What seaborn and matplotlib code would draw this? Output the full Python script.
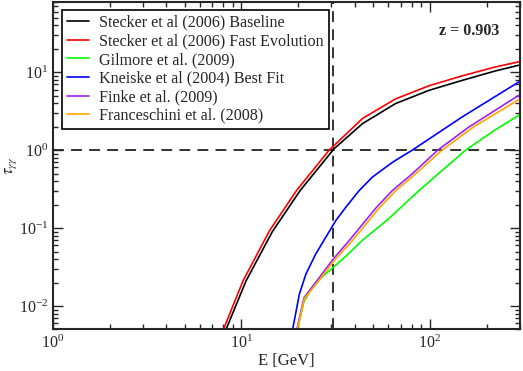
import matplotlib
matplotlib.use("Agg")
import matplotlib.pyplot as plt
import numpy as np
import pandas as pd
import seaborn as sns

# optical depth, E in GeV
stecker_base_E = [8.3, 10.59, 14.6, 20.5, 31.0, 43.9, 65.7, 98.8, 148.6, 222.8, 296]
stecker_base_tau = [0.00503, 0.021, 0.090, 0.303, 1.04, 2.19, 3.96, 5.85, 7.87, 10.4, 12.3]

stecker_fast_E = [8.03, 10.2, 14.1, 19.6, 29.2, 43.9, 65.7, 98.8, 148.6, 222.8, 296]
stecker_fast_tau = [0.005, 0.021, 0.0926, 0.303, 1.0, 2.55, 4.55, 6.7, 9.0, 11.7, 13.6]

gilmore_E = [19.8, 21.5, 24.0, 27.0, 31.0, 36.0, 43.6, 60.0, 87.5, 154.5, 220, 296]
gilmore_tau = [0.005, 0.0115, 0.018, 0.024, 0.032, 0.044, 0.069, 0.13, 0.303, 1.0, 1.8, 2.8]

kneiske_E = [18.7, 20.3, 22.0, 24.8, 28.0, 31.7, 35.8, 42.0, 49.5, 57.0, 64.0, 80.6, 148, 296]
kneiske_tau = [0.005, 0.0142, 0.0257, 0.0465, 0.0759, 0.125, 0.185, 0.30, 0.45, 0.58, 0.71, 1.0, 2.66, 7.5]

finke_E = [19.7, 21.5, 25.5, 30.7, 37.3, 51.6, 63.2, 80.6, 110, 161, 296]
finke_tau = [0.005, 0.0128, 0.022, 0.040, 0.069, 0.18, 0.303, 0.497, 1.0, 1.98, 5.06]

frances_E = [19.8, 21.6, 25.7, 31.0, 38.8, 53.7, 66.0, 84.0, 116, 170, 296]
frances_tau = [0.005, 0.0125, 0.021, 0.038, 0.069, 0.18, 0.303, 0.497, 1.0, 1.98, 4.45]

labels = ["Stecker et al (2006) Baseline", "Stecker et al (2006) Fast Evolution",
          "Gilmore et al. (2009)", "Kneiske et al (2004) Best Fit",
          "Finke et al. (2009)", "Franceschini et al. (2008)"]
colors = ["#000000", "#ff0000", "#00ff00", "#0000ff", "#a020f0", "#ffa500"]

series = [(stecker_base_E, stecker_base_tau), (stecker_fast_E, stecker_fast_tau),
          (gilmore_E, gilmore_tau), (kneiske_E, kneiske_tau),
          (finke_E, finke_tau), (frances_E, frances_tau)]

frames = []
for lab, (e, t) in zip(labels, series):
    frames.append(pd.DataFrame({"E": e, "tau": t, "model": lab}))
df = pd.concat(frames, ignore_index=True)

sns.set_style("ticks")
plt.rcParams["font.family"] = ["Liberation Serif", "DejaVu Serif"]
plt.rcParams["mathtext.fontset"] = "stix"

fig = plt.figure(figsize=(5.23, 3.71), dpi=100)
ax = fig.add_axes([0.101, 0.112, 0.893, 0.883])

sns.lineplot(data=df, x="E", y="tau", hue="model", hue_order=labels,
             palette=dict(zip(labels, colors)), estimator=None, sort=False,
             linewidth=1.2, ax=ax)

ax.axhline(1.0, color="#222222", lw=1.3, dashes=(6, 4), zorder=1)
ax.axvline(30.8, color="#222222", lw=1.3, dashes=(6, 4), zorder=1)

ax.set_xscale("log")
ax.set_yscale("log")
ax.set_xlim(1, 300)
ax.set_ylim(0.005, 80)

ax.tick_params(which="both", direction="in", top=True, right=True, labelsize=11.5, width=1)
ax.tick_params(which="major", length=7)
ax.tick_params(which="minor", length=3.5)
for s in ax.spines.values():
    s.set_linewidth(1.5)

ax.set_xlabel("E [GeV]", fontsize=12, labelpad=1)
ax.set_ylabel(r"$\tau_{\gamma\gamma}$", fontsize=12, labelpad=0)

ax.text(0.955, 0.912, "z = 0.903", transform=ax.transAxes, ha="right", va="center",
        fontsize=11.5, fontweight="bold")

leg = ax.legend(loc="upper left", bbox_to_anchor=(0.02, 0.975), fontsize=11.6,
                frameon=True, fancybox=False, handlelength=1.35, handletextpad=0.65,
                labelspacing=0.16, borderpad=0.3, borderaxespad=0)
leg.get_frame().set_edgecolor("black")
leg.get_frame().set_linewidth(1.2)
leg.get_frame().set_alpha(1)

fig.savefig("out.png", dpi=100)
